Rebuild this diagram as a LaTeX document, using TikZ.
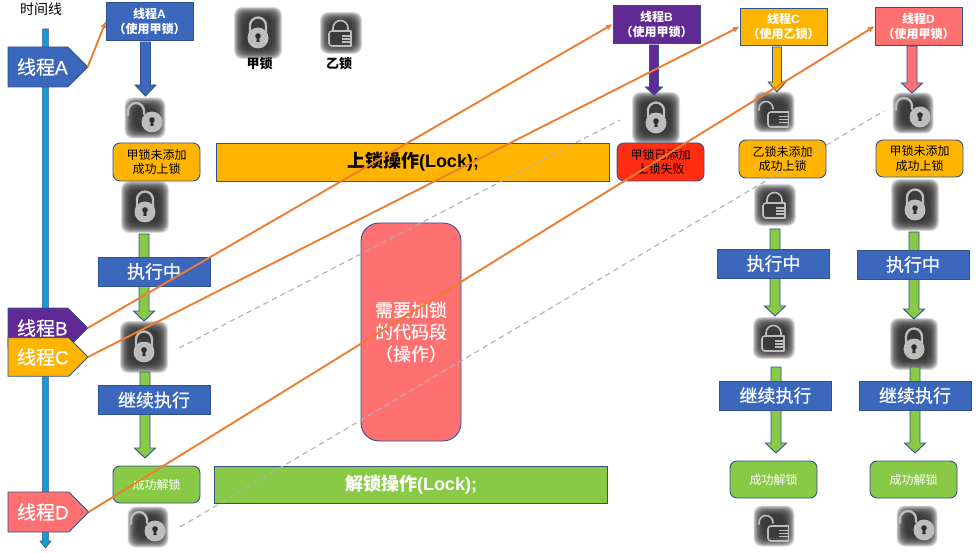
\documentclass[tikz,border=0pt]{standalone}
\usepackage{fontspec}
\usetikzlibrary{shapes.symbols,arrows.meta,calc}
\setmainfont{Liberation Sans}
\newfontfamily\cjk{Noto Sans CJK SC}
\newfontfamily\cjkw[FakeBold=0.35]{Noto Sans CJK SC}
\newfontfamily\lat{Liberation Sans}
\newfontfamily\latw[FakeBold=0.35]{Liberation Sans}
\definecolor{bdr}{HTML}{2F528F}
\definecolor{cblue}{HTML}{3B67BC}
\definecolor{cyel}{HTML}{FFB500}
\definecolor{cgrn}{HTML}{88CA45}
\definecolor{csal}{HTML}{FF7070}
\definecolor{cpur}{HTML}{5F2A94}
\definecolor{cred}{HTML}{FF2E12}
\definecolor{corg}{HTML}{ED7D31}
\definecolor{ctime}{HTML}{0F9ED5}
\definecolor{cdash}{HTML}{B0B0B0}
\definecolor{lockdark}{HTML}{2E2E2E}
\definecolor{lockgray}{HTML}{BDBDBD}
\pgfdeclarelayer{icons}\pgfdeclarelayer{arrows}
\pgfsetlayers{icons,arrows,main}
\newcommand\fs[2]{\fontsize{#1}{#2}\selectfont}
\newcommand\glowbox[2]{%
  \foreach \k in {0,...,17}{\fill[glowpart,rounded corners=8pt]
      ({-#1+.6*\k},{-#2+.6*\k}) rectangle ({#1-.6*\k},{#2-.6*\k});}}
\tikzset{
  pent/.style={signal,signal to=east,signal pointer angle=90,draw=bdr,line width=.9pt,
    minimum width=79pt,minimum height=#1,inner sep=0pt,outer sep=0pt,anchor=west,
    text=white,font=\cjkw\fs{19}{22}},
  pent/.default=40pt,
  box/.style={draw=bdr,line width=.9pt,inner sep=0pt,outer sep=0pt,align=center,
    minimum width=#1},
  title/.style={box=87pt,minimum height=38pt,text=white,font=\cjk\bfseries\fs{12}{15}},
  label/.style={box=87pt,rounded corners=7pt,minimum height=38pt,font=\cjk\fs{12}{14.5}},
  bar/.style={box=393.5pt,minimum height=38pt,font=\cjk\bfseries\fs{18}{20}},
  step box/.style={box=112pt,minimum height=29pt,fill=cblue,text=white,font=\cjkw\fs{18}{20}},
  lockanchor/.style={inner sep=0pt,outer sep=0pt,minimum width=40pt,minimum height=40pt},
  orange arrow/.style={draw=corg,line width=1.9pt,-{Latex[length=7pt,width=6pt]},shorten >=0pt},
  gray dash/.style={draw=cdash,line width=1.1pt,dash pattern=on 5.5pt off 4pt},
  glowpart/.style={fill=lockdark,fill opacity=.14},
  lockline/.style={draw=lockgray,line width=2.3pt,line cap=round},
  pics/closedlock/.style={code={
    \glowbox{24}{26}
    \draw[lockline] (-8,0) -- (-8,-7.5) arc[start angle=180,end angle=0,radius=8,y radius=-8] -- (8,0);
    \fill[lockgray] (0,5) circle (10.5);
    \fill[lockdark] (0,3) circle (2.8);
    \fill[lockdark] (-1.2,4) -- (1.2,4) -- (1.6,9) -- (-1.6,9) -- cycle;
  }},
  pics/openlock/.style={code={
    \glowbox{20.5}{20.5}
    \draw[lockline] (-17,-3) -- (-17,-7) arc[start angle=180,end angle=0,radius=8,y radius=-8] -- (-1,-4);
    \fill[lockgray] (7,4) circle (10.5);
    \fill[lockdark] (7,2) circle (2.8);
    \fill[lockdark] (5.8,3) -- (8.2,3) -- (8.6,8) -- (5.4,8) -- cycle;
  }},
  pics/closedcard/.style={code={
    \glowbox{21}{21}
    \draw[lockline,line width=1.6pt] (-8,-2) -- (-8,-5) arc[start angle=180,end angle=0,radius=7.5,y radius=-7.5] -- (7,-2);
    \draw[lockline,line width=1.6pt,rounded corners=3pt] (10,-2) -- (-12,-2) -- (-12,13) -- (10,13);
    \draw[lockgray,line width=1.6pt] (1,3) -- (10.5,3) (1,6) -- (10.5,6) (1,9) -- (10.5,9);
    \draw[lockgray,line width=1.2pt,rounded corners=2pt] (10,-2) -- (10,13);
  }},
  pics/opencard/.style={code={
    \glowbox{20.5}{20.5}
    \draw[lockline,line width=1.6pt] (-15,-2) -- (-15,-3.5) arc[start angle=180,end angle=0,radius=7,y radius=-7] -- (-1,-3);
    \draw[lockline,line width=1.6pt,rounded corners=3pt] (14.5,0) -- (-6,0) -- (-6,15) -- (14.5,15);
    \draw[lockgray,line width=1.6pt] (5,4.5) -- (15,4.5) (5,7.5) -- (15,7.5) (5,10.5) -- (15,10.5);
    \draw[lockgray,line width=1.2pt] (14.5,0) -- (14.5,15);
  }},
}
% #1 colour, #2 from, #3 to, #4 dx, #5 start gap, #6 end gap, #7 half shaft, #8 half head, #9 head length
\newcommand\blockarrow[9]{%
  \begin{pgfonlayer}{arrows}
  \draw[draw=bdr,line width=.9pt,fill=#1,line join=miter]
    let \p1=(#2),\p2=(#3) in
    ({\x2+(#4pt)-#7pt},{\y1-(#5pt)}) -- ({\x2+(#4pt)+#7pt},{\y1-(#5pt)})
    -- ({\x2+(#4pt)+#7pt},{\y2-(#6pt)+#9pt}) -- ({\x2+(#4pt)+#8pt},{\y2-(#6pt)+#9pt})
    -- ({\x2+(#4pt)},{\y2-(#6pt)})
    -- ({\x2+(#4pt)-#8pt},{\y2-(#6pt)+#9pt}) -- ({\x2+(#4pt)-#7pt},{\y2-(#6pt)+#9pt}) -- cycle;
  \end{pgfonlayer}}
\newcommand\lockicon[4]{%
  \node[lockanchor] (#1) at (#2,#3) {};
  \begin{pgfonlayer}{icons}\pic at (#1) {#4};\end{pgfonlayer}}
\newcommand\greenarrow[5]{\blockarrow{cgrn}{#1}{#2}{#3}{#4}{#5}{5}{10.5}{10}}
\begin{document}
\begin{tikzpicture}[x=1pt,y=-1pt]
\useasboundingbox (0,0) rectangle (979,553);

% legend
\node[font=\cjk\fs{14}{16}] (tlabel) at (41,9.5) {时间线};
\lockicon{legA}{258}{33}{closedlock}
\lockicon{legB}{341}{33}{closedcard}
\node[font=\cjk\bfseries\fs{13}{15}] (legAt) at (259.5,64) {甲锁};
\node[font=\cjk\bfseries\fs{13}{15}] (legBt) at (339,63.5) {乙锁};

% time line
\coordinate (tlTop) at (45.5,29);
\coordinate (tlEnd) at (45.5,548);
\begin{pgfonlayer}{arrows}
\draw[draw=bdr,line width=.6pt,fill=ctime]
  let \p1=(tlTop),\p2=(tlEnd) in
  ({\x1-2.8pt},\y1) -- ({\x1+2.8pt},\y1) -- ({\x1+2.8pt},{\y2+7pt}) -- ({\x1+5.5pt},{\y2+7pt})
  -- (\x1,\y2) -- ({\x1-5.5pt},{\y2+7pt}) -- ({\x1-2.8pt},{\y2+7pt}) -- cycle;
\end{pgfonlayer}

% thread tags
\node[pent,fill=cblue] (pA) at (8,67) {\hspace{9pt}线程\latw A};
\node[pent,fill=cpur] (pB) at (8,328) {\hspace{9pt}线程\latw B};
\node[pent=38.5pt,fill=cyel] (pC) at (8,357) {\hspace{9pt}线程\latw C};
\node[pent,fill=csal] (pD) at (8,512) {\hspace{9pt}线程\latw D};

% thread title boxes
\node[title,fill=cblue] (tA) at (149.5,21) {线程\lat A\\（使用甲锁）};
\node[title,fill=cpur] (tB) at (656.5,24) {线程\lat B\\（使用甲锁）};
\node[title,fill=cyel,minimum height=37pt] (tC) at (783.5,26.5) {线程\lat C\\（使用乙锁）};
\node[title,fill=csal] (tD) at (918.5,26) {线程\lat D\\（使用甲锁）};

% locks
\lockicon{lA1}{145}{118}{openlock}
\lockicon{lA2}{145}{207}{closedlock}
\lockicon{lA3}{144}{347}{closedlock}
\lockicon{lA4}{148}{527}{openlock}
\lockicon{lB1}{656}{118}{closedlock}
\lockicon{lC1}{774}{112}{opencard}
\lockicon{lC2}{775}{205}{closedcard}
\lockicon{lC3}{774}{338}{closedcard}
\lockicon{lC4}{774}{526}{opencard}
\lockicon{lD1}{913}{113}{openlock}
\lockicon{lD2}{915}{205}{closedlock}
\lockicon{lD3}{914}{344}{closedlock}
\lockicon{lD4}{917}{526}{openlock}

% status boxes
\node[label,fill=cyel] (sA) at (156.5,162) {甲锁未添加\\成功上锁};
\node[label,fill=cred] (sB) at (660.5,162) {甲锁已添加\\上锁失败};
\node[label,fill=cyel] (sC) at (782.5,159) {乙锁未添加\\成功上锁};
\node[label,fill=cyel,minimum height=37pt] (sD) at (919.5,158.5) {甲锁未添加\\成功上锁};
\node[label,fill=cgrn,text=white,minimum height=37pt] (uA) at (156.5,484.5) {成功解锁};
\node[label,fill=cgrn,text=white,minimum height=37pt] (uC) at (773.5,479.5) {成功解锁};
\node[label,fill=cgrn,text=white,minimum height=37pt] (uD) at (913.5,479.5) {成功解锁};

% bars and code block
\node[bar,fill=cyel] (lockbar) at (413,162) {上锁操作\lat (Lock);};
\node[bar,fill=cgrn,text=white,minimum height=37pt] (unlockbar) at (411,484.5) {解锁操作\lat (Lock);};
\node[box=100pt,minimum height=218pt,rounded corners=18pt,fill=csal,text=white,
  font=\cjkw\fs{18}{22}] (code) at (411,332) {需要加锁\\的代码段\\（操作）};

% running boxes
\node[step box] (rA) at (154,271.5) {执行中};
\node[step box] (rC) at (773.5,263.5) {执行中};
\node[step box] (rD) at (913,264.5) {执行中};
\node[step box] (cA) at (154,400) {继续执行};
\node[step box] (cC) at (775.5,395.5) {继续执行};
\node[step box] (cD) at (915,395.5) {继续执行};

% block arrows
\blockarrow{cblue}{tA.south}{lA1.north}{.5}{2}{-2}{5}{10.5}{11}
\blockarrow{cpur}{tB.south}{lB1.north}{-2}{2}{-3}{4.5}{8.5}{8}
\blockarrow{cyel}{tC.south}{lC1.north}{3}{2}{0}{4.5}{8.7}{10}
\blockarrow{csal}{tD.south}{lD1.north}{-1}{1}{0}{5}{10.5}{10}
\greenarrow{lA2.south}{lA3.north}{0}{7}{-6}
\greenarrow{lA3.south}{uA.north}{-11.5}{5}{-8}
\greenarrow{lC2.south}{lC3.north}{1}{4}{-2}
\greenarrow{lC3.south}{uC.north}{2.5}{9}{-8}
\greenarrow{lD2.south}{lD3.north}{0}{7}{-5}
\greenarrow{lD3.south}{uD.north}{1.5}{3}{-8}

% thread start connectors
\draw[orange arrow] (pA.east) -- (tA.west);
\draw[orange arrow] (pB.east) -- (tB.west);
\draw[orange arrow] (pC.east) -- (tC.west);
\draw[orange arrow] (pD.east) -- (tD.west);

% dashed guides
\coordinate (d1s) at (179,348);
\coordinate (d1e) at (620,120);
\coordinate (d2s) at (180,527);
\coordinate (d2e) at (884,111);
\draw[gray dash] (d1s) -- (d1e);
\draw[gray dash] (d2s) -- (d2e);
\end{tikzpicture}
\end{document}
